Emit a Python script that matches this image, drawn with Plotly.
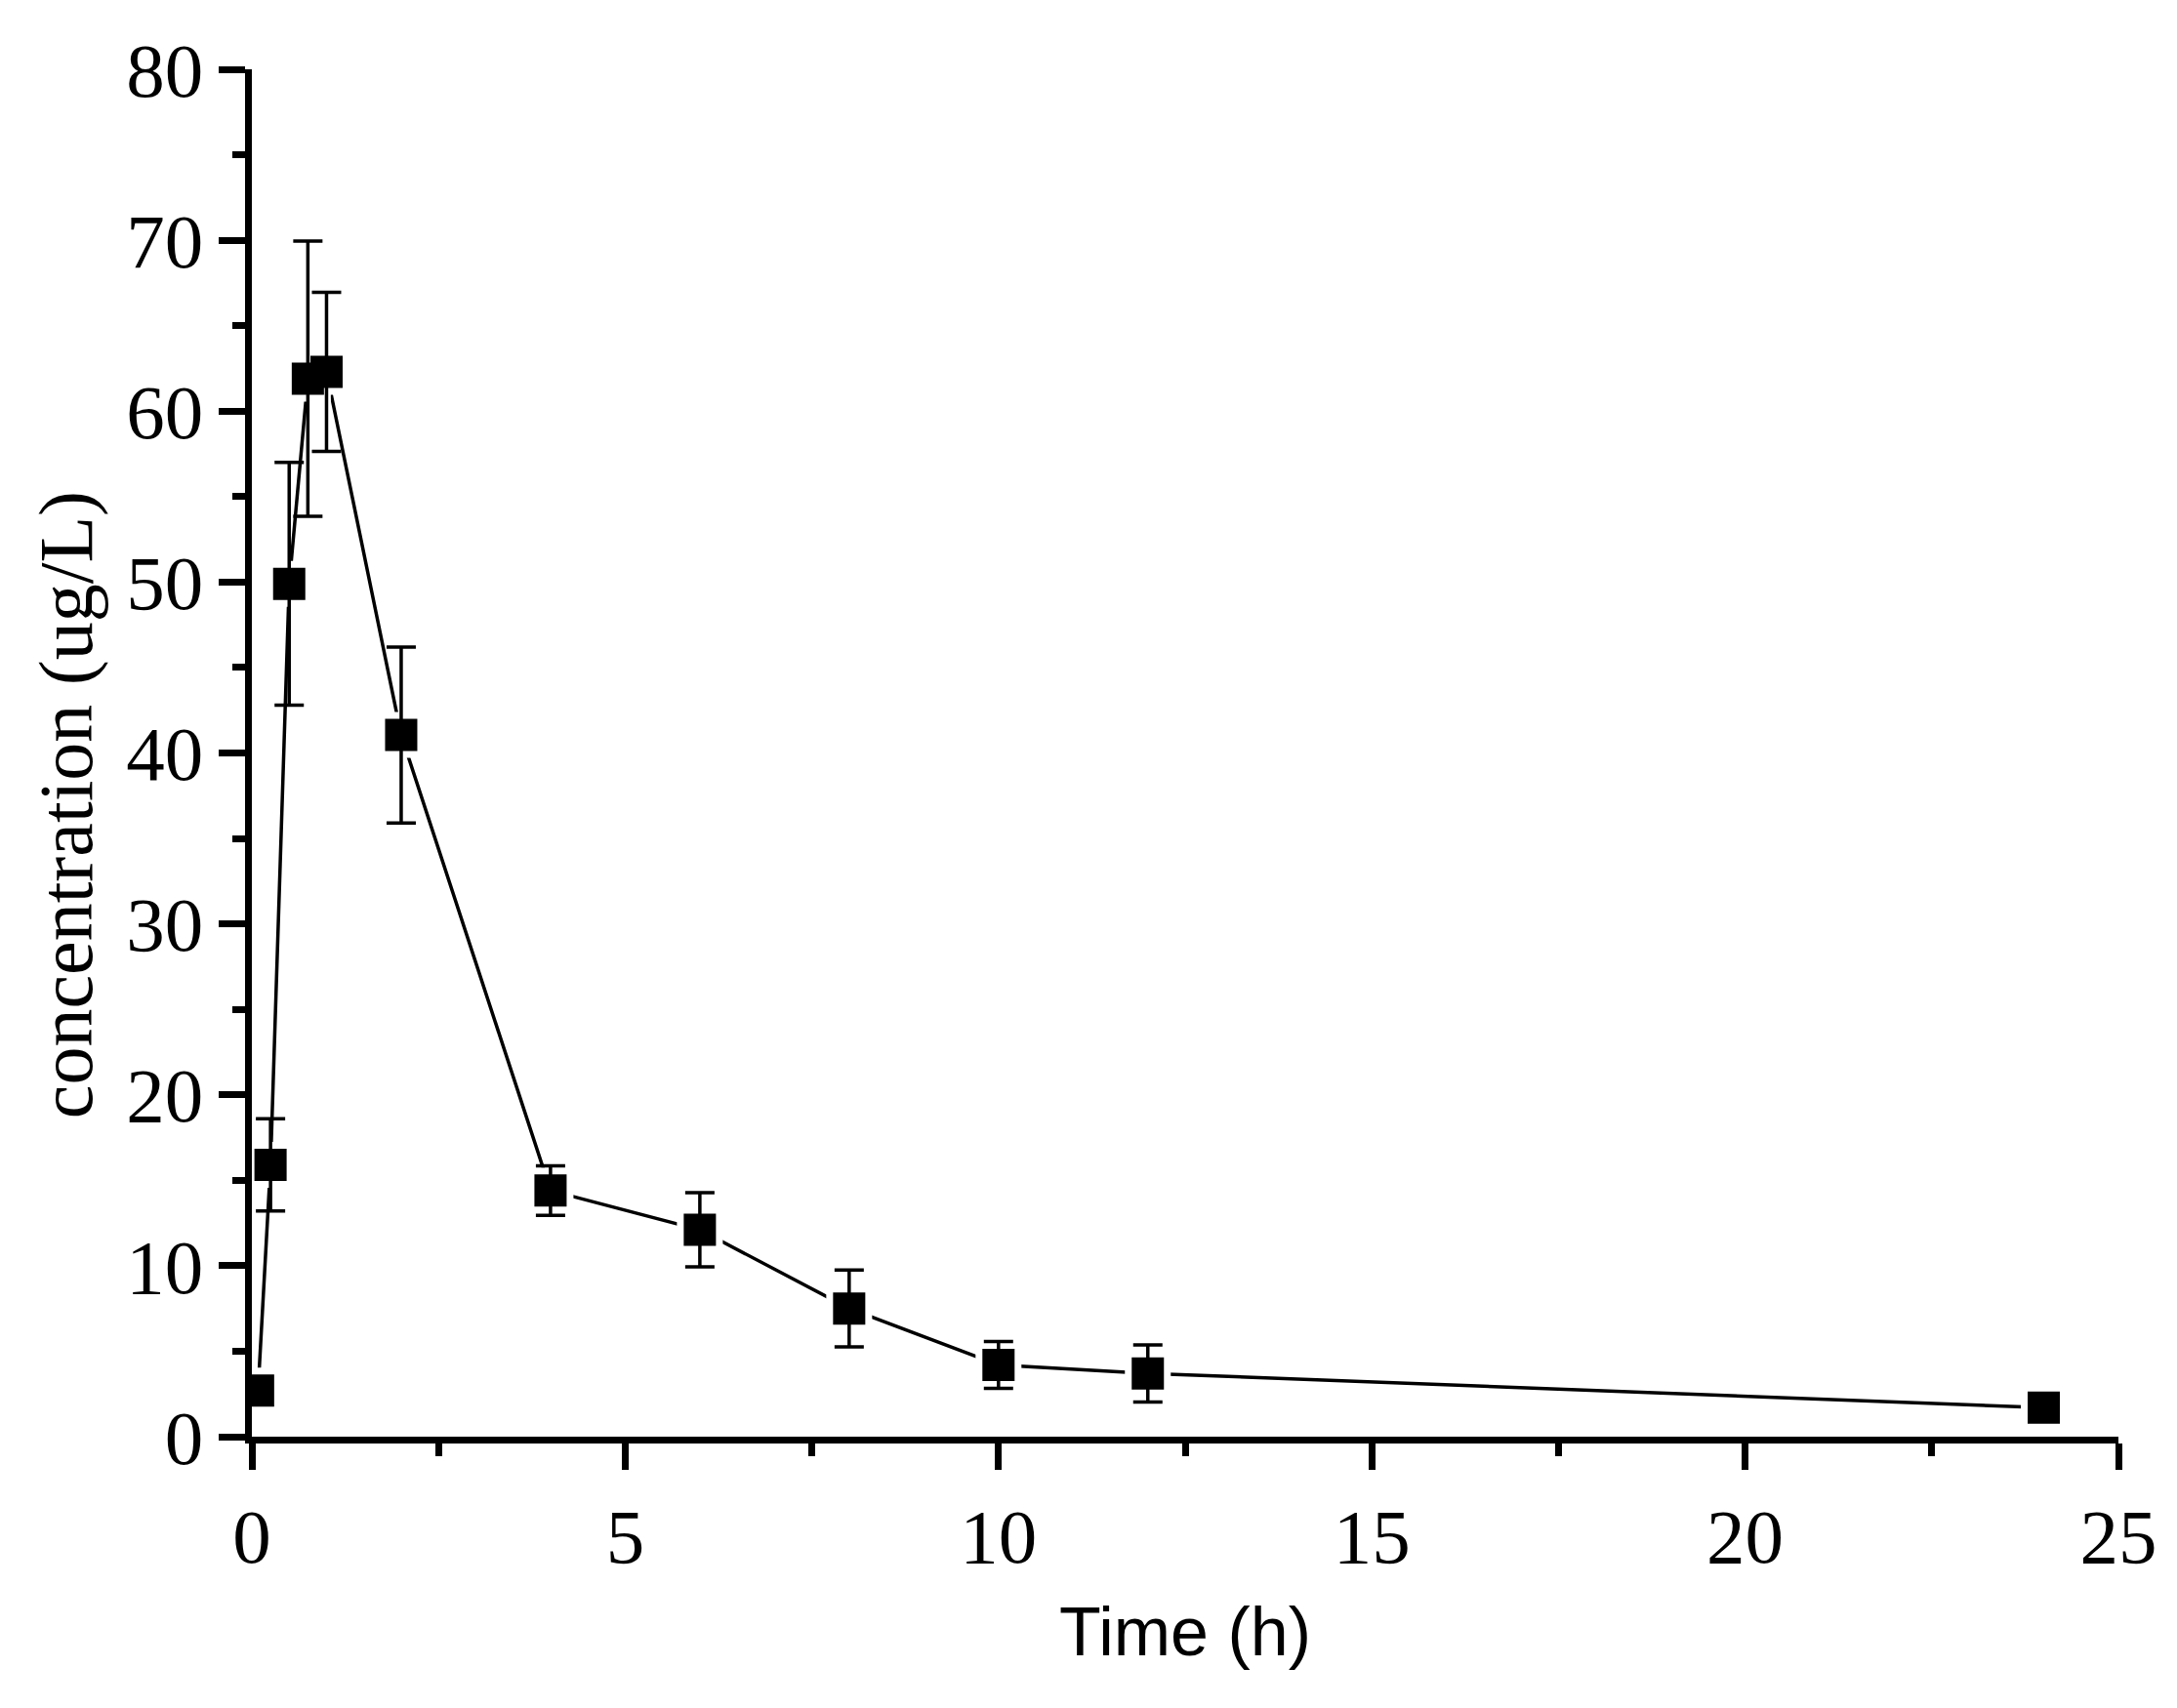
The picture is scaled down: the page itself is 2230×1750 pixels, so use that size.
import plotly.graph_objects as go

time_h = [0.083, 0.25, 0.5, 0.75, 1, 2, 4, 6, 8, 10, 12, 24]
conc = [2.7, 15.9, 49.9, 61.9, 62.3, 41.05, 14.4, 12.1, 7.5, 4.2, 3.7, 1.7]
sd = [0.5, 2.7, 7.1, 8.05, 4.65, 5.15, 1.45, 2.17, 2.25, 1.37, 1.67, 0.4]

x_title = "Time (h)"
y_title = "concentration (ug/L)"

fig = go.Figure()
# connecting line
fig.add_trace(go.Scatter(x=time_h, y=conc, mode="lines",
                         line=dict(color="black", width=3.5), showlegend=False, hoverinfo="skip"))
# white halo to create small gaps around markers
fig.add_trace(go.Scatter(x=time_h, y=conc, mode="markers",
                         marker=dict(symbol="square", size=33, color="white",
                                     line=dict(color="white", width=14)),
                         showlegend=False, hoverinfo="skip"))
# error bars
fig.add_trace(go.Scatter(x=time_h, y=conc, mode="markers",
                         marker=dict(size=2, color="rgba(0,0,0,0)"),
                         error_y=dict(type="data", array=sd, visible=True,
                                      color="black", thickness=3.5, width=15),
                         showlegend=False, hoverinfo="skip"))
# markers
fig.add_trace(go.Scatter(x=time_h, y=conc, mode="markers",
                         marker=dict(symbol="square", size=33, color="black", line=dict(width=0)),
                         showlegend=False))

axis_common = dict(
    showgrid=False, zeroline=False, showline=True, linecolor="black", linewidth=7,
    ticks="outside", ticklen=27, tickwidth=7, tickcolor="black",
    tickfont=dict(family="Liberation Serif", size=79, color="black"),
)

fig.update_xaxes(range=[0, 25], tick0=0, dtick=5,
                 minor=dict(dtick=2.5, ticks="outside", ticklen=13, tickwidth=7, tickcolor="black"),
                 **axis_common)
fig.update_yaxes(range=[0, 80], tick0=0, dtick=10,
                 minor=dict(dtick=5, ticks="outside", ticklen=13, tickwidth=7, tickcolor="black"),
                 **axis_common)

fig.add_annotation(text=y_title, xref="paper", yref="paper", x=0, y=0.4617,
                   xanchor="center", yanchor="middle", xshift=-191, textangle=-90,
                   showarrow=False,
                   font=dict(family="Liberation Serif", size=78, color="black"))
fig.add_annotation(text=x_title, xref="paper", yref="paper", x=0.5, y=0,
                   xanchor="center", yanchor="middle", yshift=-200,
                   showarrow=False,
                   font=dict(family="Liberation Sans", size=70, color="black"))

fig.update_layout(
    width=2230, height=1750,
    margin=dict(l=250, r=68, t=63, b=286),
    paper_bgcolor="white", plot_bgcolor="white",
    showlegend=False,
)

fig.write_html("out.html")
